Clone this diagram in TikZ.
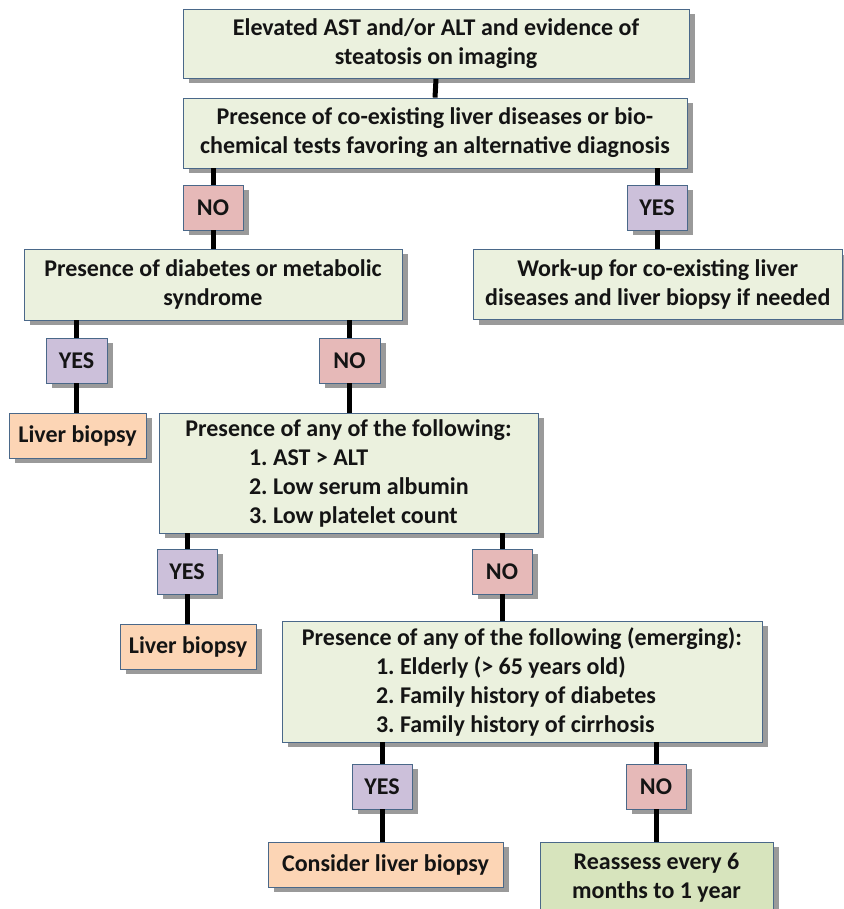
\documentclass[tikz,border=0pt]{standalone}
\usepackage{fontspec}
\setmainfont{Carlito}
\frenchspacing
\usetikzlibrary{shadows}
\definecolor{gbox}{HTML}{EBF1DE}
\definecolor{gbox2}{HTML}{D7E4BD}
\definecolor{nored}{HTML}{E6B9B8}
\definecolor{yespur}{HTML}{CCC0DA}
\definecolor{orng}{HTML}{FCD5B5}
\definecolor{bord}{HTML}{4A6889}
\definecolor{shad}{HTML}{9A9A9A}
\definecolor{txt}{HTML}{141414}
\tikzset{
  basebox/.style={draw=bord, line width=0.8pt, inner sep=0pt, align=center,
    text=txt, font=\fontsize{24}{29}\selectfont\bfseries\frenchspacing,
    drop shadow={shadow xshift=6pt, shadow yshift=-5pt, fill=shad, opacity=1}},
  gbx/.style={basebox, fill=gbox},
  nobx/.style={basebox, fill=nored, minimum width=60pt, minimum height=45pt},
  yesbx/.style={basebox, fill=yespur, minimum width=60pt, minimum height=45pt},
  obx/.style={basebox, fill=orng, minimum height=45pt},
  conn/.style={line width=5pt, black}
}
\begin{document}
\begin{tikzpicture}[x=1pt,y=-1pt]
\useasboundingbox (0,0) rectangle (843,909);
\node[gbx, minimum width=506pt, minimum height=69pt] (b1) at (436,44)
  {Elevated AST and/or ALT and evidence of\\steatosis on imaging};
\node[gbx, minimum width=504pt, minimum height=70pt] (b2) at (435,133)
  {Presence of co-existing liver diseases or bio-\\chemical tests favoring an alternative diagnosis};
\node[nobx] (no1) at (213,207.5) {NO};
\node[yesbx] (yes1) at (657,207.5) {YES};
\node[gbx, minimum width=378pt, minimum height=71pt] (diab) at (213,284.5)
  {Presence of diabetes or metabolic\\syndrome};
\node[gbx, minimum width=369.5pt, minimum height=70pt] (work) at (657.75,284.5)
  {Work-up for co-existing liver\\diseases and liver biopsy if needed};
\node[yesbx, minimum width=61pt] (yes2) at (76.5,360.5) {YES};
\node[nobx, minimum width=61pt] (no2) at (349.5,360.5) {NO};
\node[obx, minimum width=137pt] (lb1) at (77.5,435.5) {Liver biopsy};
\node[gbx, minimum width=379pt, minimum height=120pt, text width=379pt, align=flush left] (any) at (348.5,473)
  {\makebox[\linewidth][c]{Presence of any of the following:}\\
   \hspace*{90pt}1. AST > ALT\\
   \hspace*{90pt}2. Low serum albumin\\
   \hspace*{90pt}3. Low platelet count};
\node[yesbx] (yes3) at (187,571.5) {YES};
\node[nobx] (no3) at (502,571.5) {NO};
\node[obx, minimum width=136pt] (lb2) at (188,646.5) {Liver biopsy};
\node[gbx, minimum width=480pt, minimum height=121pt, text width=480pt, align=flush left] (emerg) at (522,681.5)
  {\makebox[\linewidth][c]{Presence of any of the following (emerging):}\\
   \hspace*{94pt}1. Elderly (> 65 years old)\\
   \hspace*{94pt}2. Family history of diabetes\\
   \hspace*{94pt}3. Family history of cirrhosis};
\node[yesbx] (yes4) at (382,786.5) {YES};
\node[nobx] (no4) at (656,786.5) {NO};
\node[obx, minimum width=235pt] (cons) at (385.5,864.5) {Consider liver biopsy};
\node[basebox, fill=gbox2, minimum width=233pt, minimum height=71pt] (reas) at (656.5,877.5)
  {Reassess every 6\\months to 1 year};
% connectors
\draw[conn] (b1.south) -- (b2.north);
\draw[conn] (b2.south -| no1) -- (no1.north);
\draw[conn] (no1.south) -- (no1.south |- diab.north);
\draw[conn] (b2.south -| yes1) -- (yes1.north);
\draw[conn] (yes1.south) -- (yes1.south |- work.north);
\draw[conn] (diab.south -| yes2) -- (yes2.north);
\draw[conn] (yes2.south) -- (yes2.south |- lb1.north);
\draw[conn] (diab.south -| no2) -- (no2.north);
\draw[conn] (no2.south) -- (no2.south |- any.north);
\draw[conn] (any.south -| yes3) -- (yes3.north);
\draw[conn] (yes3.south) -- (yes3.south |- lb2.north);
\draw[conn] (any.south -| no3) -- (no3.north);
\draw[conn] (no3.south) -- (no3.south |- emerg.north);
\draw[conn] (emerg.south -| yes4) -- (yes4.north);
\draw[conn] (yes4.south) -- (yes4.south |- cons.north);
\draw[conn] (emerg.south -| no4) -- (no4.north);
\draw[conn] (no4.south) -- (no4.south |- reas.north);
\end{tikzpicture}
\end{document}
